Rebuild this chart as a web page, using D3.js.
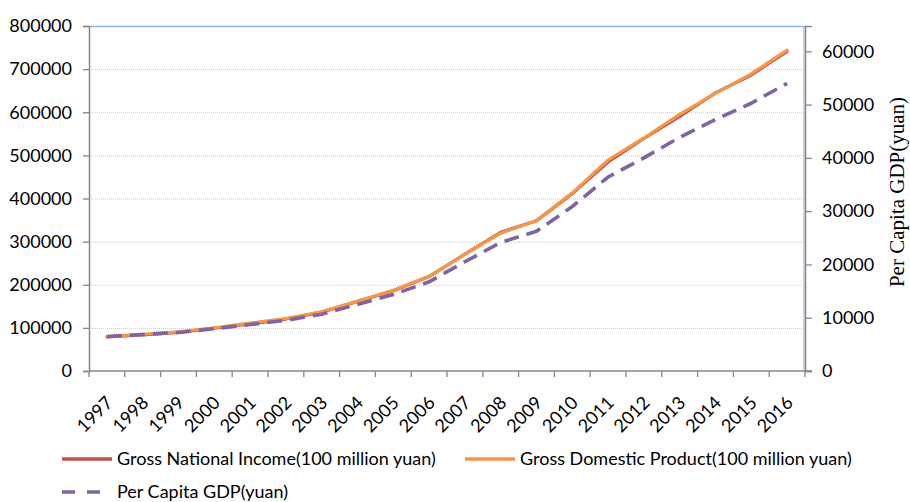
<!DOCTYPE html>
<html>
<head>
<meta charset="utf-8">
<script src="https://cdn.jsdelivr.net/npm/d3@7"></script>
<style>
  html, body { margin: 0; padding: 0; background: #fff; }
  svg { display: block; }
</style>
</head>
<body>
<svg id="chart" width="910" height="502"></svg>
<script>
// Years on the category axis
const years = ["1997","1998","1999","2000","2001","2002","2003","2004","2005","2006",
               "2007","2008","2009","2010","2011","2012","2013","2014","2015","2016"];

// Gross National Income (100 million yuan)
const gni = [78802.9, 83817.6, 89366.5, 99066.1, 109276.2, 120480.4, 136576.3, 161415.4,
             185998.9, 219028.5, 270844.0, 321500.5, 348498.5, 411265.2, 484753.2,
             539116.5, 590422.4, 644791.1, 686449.6, 741140.4];

// Gross Domestic Product (100 million yuan)
const gdp = [79715.0, 85195.5, 90564.4, 100280.1, 110863.1, 121717.4, 137422.0, 161840.2,
             187318.9, 219438.5, 270232.3, 319515.5, 349081.4, 413030.3, 489300.6,
             540367.4, 595244.4, 643974.0, 689052.1, 744127.2];

// Per capita GDP (yuan)
const perCapita = [6481, 6860, 7229, 7942, 8717, 9506, 10666, 12487, 14368, 16738,
                   20505, 24121, 26222, 30876, 36403, 40007, 43852, 47203, 50251, 53980];

// Axis tick values
const leftTicks = [0, 100000, 200000, 300000, 400000, 500000, 600000, 700000, 800000];
const rightTicks = [0, 10000, 20000, 30000, 40000, 50000, 60000];

const legendNames = ["Gross National Income(100 million yuan)",
                     "Gross Domestic Product(100 million yuan)",
                     "Per Capita GDP(yuan)"];

const svg = d3.select("#chart");
const plot = { left: 89, right: 805, top: 26, bottom: 371 };
const axisGray = "#868686";
const labelFont = "Lato, 'Open Sans', sans-serif";

const x = d3.scaleBand().domain(years).range([plot.left, plot.right]).paddingInner(0).paddingOuter(0);
const yL = d3.scaleLinear().domain([0, 800000]).range([plot.bottom, plot.top]);
const yR = d3.scaleLinear().domain([0, 64750]).range([plot.bottom, plot.top]);
const cx = d => x(d) + x.bandwidth() / 2;

// Horizontal dotted gridlines at each left-axis tick
svg.append("g").selectAll("line")
  .data(leftTicks.filter(v => v > 0 && v < 800000))
  .join("line")
  .attr("x1", plot.left).attr("x2", plot.right)
  .attr("y1", d => yL(d) + 0.5).attr("y2", d => yL(d) + 0.5)
  .attr("stroke", "#b8cbe4").attr("stroke-width", 1)
  .attr("stroke-dasharray", "1,1");

// Plot-area top and right border
svg.append("line")
  .attr("x1", plot.left).attr("x2", plot.right)
  .attr("y1", plot.top + 0.5).attr("y2", plot.top + 0.5)
  .attr("stroke", "#8eb4e3").attr("stroke-width", 1.3);
svg.append("line")
  .attr("x1", plot.right - 1).attr("x2", plot.right - 1)
  .attr("y1", plot.top).attr("y2", plot.bottom)
  .attr("stroke", "#a9c4e8").attr("stroke-width", 1.3);

// Left axis
const gLeft = svg.append("g").attr("transform", `translate(${plot.left},0)`)
  .call(d3.axisLeft(yL).tickValues(leftTicks).tickSize(6).tickPadding(11).tickFormat(d3.format("d")));
// Right axis
const gRight = svg.append("g").attr("transform", `translate(${plot.right},0)`)
  .call(d3.axisRight(yR).tickValues(rightTicks).tickSize(7).tickPadding(10).tickFormat(d3.format("d")));
// Bottom axis with ticks on category boundaries
const boundaries = years.map(d => x(d)).concat([plot.right]);
const gBottom = svg.append("g").attr("transform", `translate(0,${plot.bottom})`);
gBottom.append("line")
  .attr("x1", plot.left).attr("x2", plot.right + 7)
  .attr("stroke", axisGray).attr("stroke-width", 1.5);
gBottom.selectAll("line.tick")
  .data(boundaries).join("line").attr("class", "tick")
  .attr("x1", d => d).attr("x2", d => d)
  .attr("y1", 0).attr("y2", 6)
  .attr("stroke", axisGray).attr("stroke-width", 1.3);
gBottom.selectAll("text")
  .data(years).join("text")
  .attr("transform", d => `translate(${cx(d) - 2},${24}) rotate(-45)`)
  .attr("text-anchor", "end")
  .attr("dy", "0.7em")
  .attr("font-family", labelFont).attr("font-size", 18).attr("fill", "#000")
  .text(d => d);

[gLeft, gRight].forEach(g => {
  g.select(".domain").attr("stroke", axisGray).attr("stroke-width", 1.5);
  g.selectAll(".tick line").attr("stroke", axisGray).attr("stroke-width", 1.3);
  g.selectAll(".tick text").attr("font-family", labelFont).attr("font-size", 18).attr("fill", "#000");
});

// Right axis title
svg.append("text")
  .attr("transform", "translate(904,192) rotate(-90)")
  .attr("text-anchor", "middle")
  .attr("font-family", "'Liberation Serif', 'Times New Roman', serif")
  .attr("font-size", 21).attr("fill", "#000")
  .text("Per Capita GDP(yuan)");

// Series lines
const lineL = d3.line().x((d, i) => cx(years[i])).y(d => yL(d));
const lineR = d3.line().x((d, i) => cx(years[i])).y(d => yR(d));

const series = [
  { values: gni, line: lineL, color: "#c0504d", width: 3.2, dash: null },
  { values: gdp, line: lineL, color: "#f79646", width: 3.2, dash: null },
  { values: perCapita, line: lineR, color: "#8064a2", width: 3.6, dash: "15,8" }
];

svg.append("g").selectAll("path")
  .data(series).join("path")
  .attr("d", s => s.line(s.values))
  .attr("fill", "none")
  .attr("stroke", s => s.color)
  .attr("stroke-width", s => s.width)
  .attr("stroke-linejoin", "round")
  .attr("stroke-linecap", s => s.dash ? "butt" : "round")
  .attr("stroke-dasharray", s => s.dash);

// Legend
const legendItems = [
  { name: legendNames[0], color: "#c0504d", dash: null, x: 62, y: 459 },
  { name: legendNames[1], color: "#f79646", dash: null, x: 465, y: 459 },
  { name: legendNames[2], color: "#8064a2", dash: "13,12", x: 62, y: 492 }
];
const lg = svg.append("g").selectAll("g").data(legendItems).join("g")
  .attr("transform", d => `translate(${d.x},${d.y})`);
lg.append("line")
  .attr("x1", 0).attr("x2", 50)
  .attr("stroke", d => d.color).attr("stroke-width", 3.5)
  .attr("stroke-dasharray", d => d.dash);
lg.append("text")
  .attr("x", 55).attr("dy", "0.35em")
  .attr("font-family", labelFont).attr("font-size", 18).attr("fill", "#000")
  .text(d => d.name);
</script>
</body>
</html>
